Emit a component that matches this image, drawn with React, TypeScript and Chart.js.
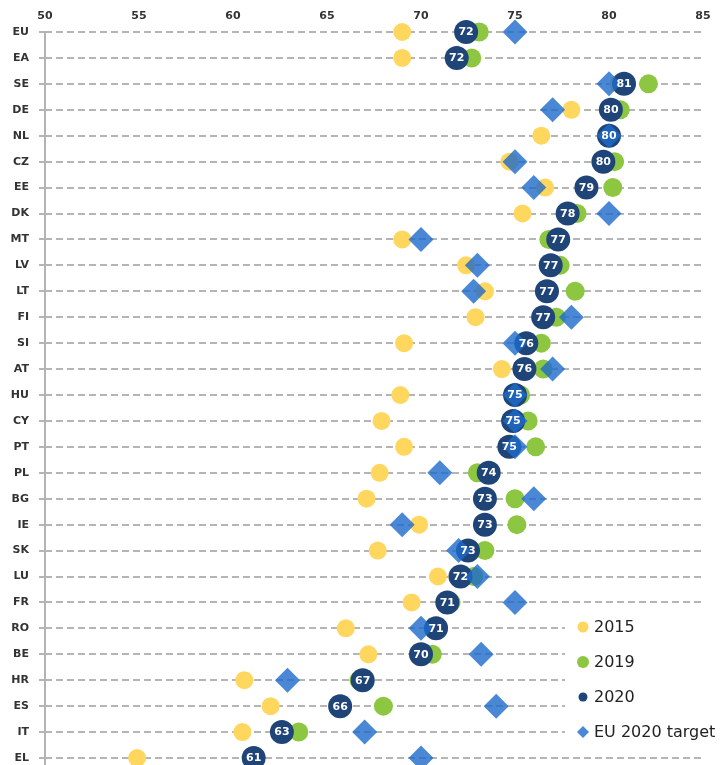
import React, { useEffect, useRef } from 'react';
import { Chart, registerables } from 'chart.js';

Chart.register(...registerables);

const countries = ['EU', 'EA', 'SE', 'DE', 'NL', 'CZ', 'EE', 'DK', 'MT', 'LV', 'LT', 'FI', 'SI', 'AT', 'HU', 'CY', 'PT', 'PL', 'BG', 'IE', 'SK', 'LU', 'FR', 'RO', 'BE', 'HR', 'ES', 'IT', 'EL'];

const values2015 = [69.0, 69.0, 80.5, 78.0, 76.4, 74.7, 76.6, 75.4, 69.0, 72.4, 73.4, 72.9, 69.1, 74.3, 68.9, 67.9, 69.1, 67.8, 67.1, 69.9, 67.7, 70.9, 69.5, 66.0, 67.2, 60.6, 62.0, 60.5, 54.9];

const values2019 = [73.1, 72.7, 82.1, 80.6, 80.1, 80.3, 80.2, 78.3, 76.8, 77.4, 78.2, 77.2, 76.4, 76.5, 75.3, 75.7, 76.1, 73.0, 75.0, 75.1, 73.4, 72.8, 71.6, 70.9, 70.6, 66.7, 68.0, 63.5, 61.2];

const values2020 = [72.4, 71.9, 80.8, 80.1, 80.0, 79.7, 78.8, 77.8, 77.3, 76.9, 76.7, 76.5, 75.6, 75.5, 75.0, 74.9, 74.7, 73.6, 73.4, 73.4, 72.5, 72.1, 71.4, 70.8, 70.0, 66.9, 65.7, 62.6, 61.1];

const targets = [75, null, 80, 77, 80, 75, 76, 80, 70, 73, 72.8, 78, 75, 77, 75, 75, 75, 71, 76, 69, 72, 73, 75, 70, 73.2, 62.9, 74, 67, 70];

const xTicks = [50, 55, 60, 65, 70, 75, 80, 85];

const legendLabels = ['2015', '2019', '2020', 'EU 2020 target'];

const YELLOW = '#FFD65E';
const GREEN = '#8DC641';
const NAVY = '#1F4477';
const BLUE = '#4A88D6';
const BLUE_T = 'rgba(29,106,204,0.8)';
const FONT = "'DejaVu Sans', Verdana, sans-serif";

const axisLinePlugin = {
  id: 'axisLine',
  beforeDatasetsDraw(chart: any) {
    const { ctx, chartArea } = chart;
    const x = chart.scales.x.getPixelForValue(xTicks[0]);
    ctx.save();
    ctx.strokeStyle = '#b3b3b3';
    ctx.lineWidth = 2;
    ctx.beginPath();
    ctx.moveTo(x, chartArea.top);
    ctx.lineTo(x, chartArea.bottom + 10);
    ctx.stroke();
    ctx.restore();
  },
};

const valueLabelPlugin = {
  id: 'valueLabels',
  afterDatasetsDraw(chart: any) {
    const { ctx } = chart;
    const meta = chart.getDatasetMeta(2);
    ctx.save();
    ctx.fillStyle = '#ffffff';
    ctx.font = `bold 11px ${FONT}`;
    ctx.textAlign = 'center';
    ctx.textBaseline = 'middle';
    meta.data.forEach((el: any, i: number) => {
      ctx.fillText(String(Math.round(values2020[i])), el.x, el.y + 0.5);
    });
    ctx.restore();
  },
};

const legendPlugin = {
  id: 'customLegend',
  afterDraw(chart: any) {
    const { ctx } = chart;
    ctx.save();
    ctx.fillStyle = '#ffffff';
    ctx.fillRect(565, 613, 156, 132);
    const colors = [YELLOW, GREEN, NAVY, BLUE];
    const radii = [5.5, 6, 4.5, 6];
    legendLabels.forEach((lab, i) => {
      const y = 627 + i * 35;
      const mx = 583;
      ctx.fillStyle = colors[i];
      ctx.beginPath();
      if (i === 3) {
        const r = radii[i];
        ctx.moveTo(mx - r, y);
        ctx.lineTo(mx, y - r);
        ctx.lineTo(mx + r, y);
        ctx.lineTo(mx, y + r);
        ctx.closePath();
      } else {
        ctx.arc(mx, y, radii[i], 0, Math.PI * 2);
      }
      ctx.fill();
      ctx.fillStyle = '#222222';
      ctx.font = `16px ${FONT}`;
      ctx.textAlign = 'left';
      ctx.textBaseline = 'middle';
      ctx.fillText(lab, 594, y + 1);
    });
    ctx.restore();
  },
};

function pointSet(label: string, data: (number | null)[], color: string, radius: number, style: string, order: number) {
  return {
    label,
    data,
    showLine: false,
    pointStyle: style,
    pointRadius: radius,
    pointHoverRadius: radius,
    pointBackgroundColor: color,
    pointBorderWidth: 0,
    pointHoverBorderWidth: 0,
    borderColor: color,
    backgroundColor: color,
    order,
    clip: false,
  };
}

export default function App() {
  const canvasRef = useRef<HTMLCanvasElement | null>(null);

  useEffect(() => {
    if (!canvasRef.current) return;
    const chart = new Chart(canvasRef.current, {
      type: 'line',
      data: {
        labels: countries,
        datasets: [
          pointSet('2015', values2015, YELLOW, 9, 'circle', 4),
          pointSet('2019', values2019, GREEN, 9.5, 'circle', 3),
          pointSet('2020', values2020, NAVY, 12, 'circle', 2),
          pointSet('EU 2020 target', targets, BLUE_T, 12.5, 'rectRot', 1),
        ] as any,
      },
      options: {
        indexAxis: 'y',
        responsive: false,
        animation: false,
        devicePixelRatio: 1,
        layout: { autoPadding: false, padding: { left: 0, right: 18, top: 0, bottom: 7 } },
        plugins: {
          legend: { display: false },
          tooltip: { enabled: false },
        },
        scales: {
          x: {
            type: 'linear',
            position: 'top',
            min: 50,
            max: 85,
            afterBuildTicks: (s: any) => {
              s.ticks = xTicks.map((v) => ({ value: v }));
            },
            ticks: {
              font: { family: FONT, size: 11, weight: 'bold' },
              color: '#333333',
              padding: 9,
            },
            grid: { display: false, drawTicks: false },
            border: { display: false },
            afterFit: (s: any) => {
              s.height = 32;
              s.paddingLeft = 0;
              s.paddingRight = 0;
            },
          },
          y: {
            type: 'category',
            offset: false,
            ticks: {
              font: { family: FONT, size: 11, weight: 'bold' },
              color: '#333333',
              padding: 10,
              autoSkip: false,
            },
            grid: {
              color: '#b5b5b5',
              lineWidth: 2,
              drawTicks: true,
              tickLength: 6,
            },
            border: { display: false, dash: [7, 4] },
            afterFit: (s: any) => {
              s.width = 45;
              s.paddingTop = 0;
              s.paddingBottom = 0;
            },
          },
        },
      } as any,
      plugins: [axisLinePlugin, valueLabelPlugin, legendPlugin],
    });
    return () => chart.destroy();
  }, []);

  return (
    <div style={{ position: 'absolute', left: 0, top: 0, width: 721, height: 765, background: '#ffffff' }}>
      <canvas ref={canvasRef} width={721} height={765} style={{ display: 'block' }} />
    </div>
  );
}
